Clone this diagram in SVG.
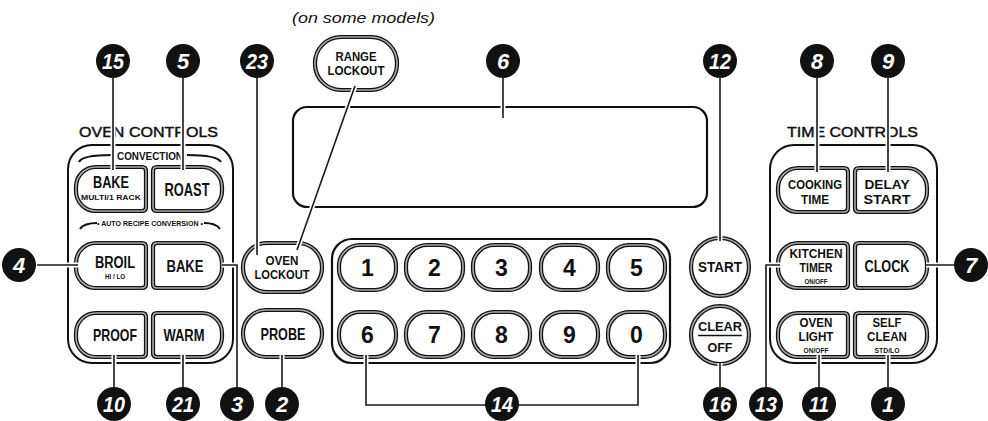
<svg xmlns="http://www.w3.org/2000/svg" xmlns:xlink="http://www.w3.org/1999/xlink" width="988" height="421" viewBox="0 0 988 421">
<style>
text{font-family:"Liberation Sans",Arial,sans-serif;fill:#111}
.lb{font-weight:bold;text-anchor:middle}
.hd{font-size:14.5px;stroke:#111;stroke-width:0.45}
.bo{fill:#fff;stroke:#111;stroke-width:4.2}
.bi{fill:none;stroke:#aaa;stroke-width:1.6}
.pnl{fill:none;stroke:#111;stroke-width:2}
.fr{fill:none;stroke:#111;stroke-width:2.2}
.hl{fill:none;stroke:#fff;stroke-width:5}
.ld{fill:none;stroke:#1a1a1a;stroke-width:1.6}
.co circle{fill:#111}
.co text{fill:#fff;font-weight:bold;font-style:italic;font-size:22px;text-anchor:middle}
.dg{font-size:23px}
</style>
<defs>
<path id="s-l1" d="M96,167 H142 Q146,167 146,171 V207 Q146,211 142,211 H96 A20,20 0 0 1 76,191 V187 A20,20 0 0 1 96,167 Z"/>
<path id="s-r1" d="M157,167 H202 A20,20 0 0 1 222,187 V191 A20,20 0 0 1 202,211 H157 Q153,211 153,207 V171 Q153,167 157,167 Z"/>
<path id="s-l2" d="M96,243 H142 Q146,243 146,247 V284 Q146,288 142,288 H96 A20,20 0 0 1 76,268 V263 A20,20 0 0 1 96,243 Z"/>
<path id="s-r2" d="M157,243 H202 A20,20 0 0 1 222,263 V268 A20,20 0 0 1 202,288 H157 Q153,288 153,284 V247 Q153,243 157,243 Z"/>
<path id="s-l3" d="M96,313 H142 Q146,313 146,317 V353 Q146,357 142,357 H96 A20,20 0 0 1 76,337 V333 A20,20 0 0 1 96,313 Z"/>
<path id="s-r3" d="M157,313 H202 A20,20 0 0 1 222,333 V337 A20,20 0 0 1 202,357 H157 Q153,357 153,353 V317 Q153,313 157,313 Z"/>
<path id="t-l1" d="M798,168 H844 Q848,168 848,172 V208 Q848,212 844,212 H798 A20,20 0 0 1 778,192 V188 A20,20 0 0 1 798,168 Z"/>
<path id="t-r1" d="M859,168 H907 A20,20 0 0 1 927,188 V192 A20,20 0 0 1 907,212 H859 Q855,212 855,208 V172 Q855,168 859,168 Z"/>
<path id="t-l2" d="M798,243 H844 Q848,243 848,247 V284 Q848,288 844,288 H798 A20,20 0 0 1 778,268 V263 A20,20 0 0 1 798,243 Z"/>
<path id="t-r2" d="M859,243 H907 A20,20 0 0 1 927,263 V268 A20,20 0 0 1 907,288 H859 Q855,288 855,284 V247 Q855,243 859,243 Z"/>
<path id="t-l3" d="M798,313 H844 Q848,313 848,317 V353 Q848,357 844,357 H798 A20,20 0 0 1 778,337 V333 A20,20 0 0 1 798,313 Z"/>
<path id="t-r3" d="M859,313 H907 A20,20 0 0 1 927,333 V337 A20,20 0 0 1 907,357 H859 Q855,357 855,353 V317 Q855,313 859,313 Z"/>
<rect id="s-range" x="315" y="37" width="82" height="53" rx="26"/>
<rect id="s-olock" x="243" y="243" width="79" height="49" rx="24"/>
<rect id="s-probe" x="243" y="310" width="79" height="47" rx="23"/>
<rect id="k" x="0" y="0" width="57" height="45" rx="21"/>
<circle id="s-start" cx="720" cy="267" r="29"/>
<circle id="s-clear" cx="720" cy="335" r="29"/>
</defs>

<text x="292" y="23" font-size="15" font-style="italic" fill="#333" textLength="143" lengthAdjust="spacingAndGlyphs">(on some models)</text>

<g id="oven-controls">
<text class="hd" x="79" y="137" textLength="139" lengthAdjust="spacingAndGlyphs">OVEN CONTROLS</text>
<rect class="pnl" x="68" y="145" width="165" height="218" rx="24"/>
<path class="pnl" d="M79,162 Q82,155 112,155 M187,155 Q217,155 221,162" stroke-width="1.8"/>
<text class="lb" x="150" y="160" font-size="11" textLength="66" lengthAdjust="spacingAndGlyphs">CONVECTION</text>
<path class="pnl" d="M80,229 Q84,223 97,223 M204,223 Q216,223 220,229" stroke-width="1.8"/>
<text class="lb" x="150" y="226" font-size="7.5" textLength="106" lengthAdjust="spacingAndGlyphs">• AUTO RECIPE CONVERSION •</text>
</g>

<g id="btn-conv-bake"><use href="#s-l1" class="bo"/><use href="#s-l1" class="bi"/>
<text class="lb" x="111" y="188" font-size="16" textLength="36" lengthAdjust="spacingAndGlyphs">BAKE</text>
<text class="lb" x="111" y="200" font-size="8" textLength="60" lengthAdjust="spacingAndGlyphs">MULTI/1 RACK</text></g>
<g id="btn-roast"><use href="#s-r1" class="bo"/><use href="#s-r1" class="bi"/>
<text class="lb" x="187" y="196" font-size="17.5" textLength="45" lengthAdjust="spacingAndGlyphs">ROAST</text></g>
<g id="btn-broil"><use href="#s-l2" class="bo"/><use href="#s-l2" class="bi"/>
<text class="lb" x="115" y="268" font-size="16" textLength="40" lengthAdjust="spacingAndGlyphs">BROIL</text>
<text class="lb" x="115" y="279" font-size="7.5" textLength="20" lengthAdjust="spacingAndGlyphs">HI / LO</text></g>
<g id="btn-bake"><use href="#s-r2" class="bo"/><use href="#s-r2" class="bi"/>
<text class="lb" x="185" y="272" font-size="16.5" textLength="37" lengthAdjust="spacingAndGlyphs">BAKE</text></g>
<g id="btn-proof"><use href="#s-l3" class="bo"/><use href="#s-l3" class="bi"/>
<text class="lb" x="115" y="341" font-size="16.5" textLength="44" lengthAdjust="spacingAndGlyphs">PROOF</text></g>
<g id="btn-warm"><use href="#s-r3" class="bo"/><use href="#s-r3" class="bi"/>
<text class="lb" x="184" y="341" font-size="16.5" textLength="41" lengthAdjust="spacingAndGlyphs">WARM</text></g>

<g id="btn-range-lockout"><use href="#s-range" class="bo"/><use href="#s-range" class="bi"/>
<text class="lb" x="356" y="61" font-size="13" textLength="41" lengthAdjust="spacingAndGlyphs">RANGE</text>
<text class="lb" x="356" y="75" font-size="13" textLength="57" lengthAdjust="spacingAndGlyphs">LOCKOUT</text></g>
<g id="btn-oven-lockout"><use href="#s-olock" class="bo"/><use href="#s-olock" class="bi"/>
<text class="lb" x="282" y="265" font-size="13" textLength="33" lengthAdjust="spacingAndGlyphs">OVEN</text>
<text class="lb" x="282" y="279" font-size="13" textLength="55" lengthAdjust="spacingAndGlyphs">LOCKOUT</text></g>
<g id="btn-probe"><use href="#s-probe" class="bo"/><use href="#s-probe" class="bi"/>
<text class="lb" x="283" y="340" font-size="16.5" textLength="45" lengthAdjust="spacingAndGlyphs">PROBE</text></g>

<g id="display"><rect class="fr" x="293" y="107" width="414" height="100" rx="14"/></g>

<g id="keypad">
<rect class="fr" x="332" y="239" width="338" height="124" rx="20"/>
<g transform="translate(339,245)"><use href="#k" class="bo"/><use href="#k" class="bi"/></g>
<g transform="translate(406,245)"><use href="#k" class="bo"/><use href="#k" class="bi"/></g>
<g transform="translate(473,245)"><use href="#k" class="bo"/><use href="#k" class="bi"/></g>
<g transform="translate(541,245)"><use href="#k" class="bo"/><use href="#k" class="bi"/></g>
<g transform="translate(608,245)"><use href="#k" class="bo"/><use href="#k" class="bi"/></g>
<g transform="translate(339,312)"><use href="#k" class="bo"/><use href="#k" class="bi"/></g>
<g transform="translate(406,312)"><use href="#k" class="bo"/><use href="#k" class="bi"/></g>
<g transform="translate(473,312)"><use href="#k" class="bo"/><use href="#k" class="bi"/></g>
<g transform="translate(541,312)"><use href="#k" class="bo"/><use href="#k" class="bi"/></g>
<g transform="translate(608,312)"><use href="#k" class="bo"/><use href="#k" class="bi"/></g>
<text class="lb dg" x="367.5" y="276">1</text>
<text class="lb dg" x="434.5" y="276">2</text>
<text class="lb dg" x="501.5" y="276">3</text>
<text class="lb dg" x="569.5" y="276">4</text>
<text class="lb dg" x="636.5" y="276">5</text>
<text class="lb dg" x="367.5" y="343">6</text>
<text class="lb dg" x="434.5" y="343">7</text>
<text class="lb dg" x="501.5" y="343">8</text>
<text class="lb dg" x="569.5" y="343">9</text>
<text class="lb dg" x="636.5" y="343">0</text>
</g>

<g id="btn-start"><use href="#s-start" class="bo"/><use href="#s-start" class="bi"/>
<text class="lb" x="720" y="272" font-size="15" textLength="44" lengthAdjust="spacingAndGlyphs">START</text></g>
<g id="btn-clear-off"><use href="#s-clear" class="bo"/><use href="#s-clear" class="bi"/>
<text class="lb" x="720" y="331" font-size="13.5" textLength="44" lengthAdjust="spacingAndGlyphs">CLEAR</text>
<line x1="698" y1="335.5" x2="742" y2="335.5" stroke="#111" stroke-width="1.6"/>
<text class="lb" x="720" y="352" font-size="13.5" textLength="25" lengthAdjust="spacingAndGlyphs">OFF</text></g>

<g id="time-controls">
<text class="hd" x="787" y="137" textLength="131" lengthAdjust="spacingAndGlyphs">TIME CONTROLS</text>
<rect class="pnl" x="770" y="145" width="167" height="218" rx="24"/>
</g>
<g id="btn-cooking-time"><use href="#t-l1" class="bo"/><use href="#t-l1" class="bi"/>
<text class="lb" x="815" y="189" font-size="13.5" textLength="54" lengthAdjust="spacingAndGlyphs">COOKING</text>
<text class="lb" x="815" y="204" font-size="13.5" textLength="28" lengthAdjust="spacingAndGlyphs">TIME</text></g>
<g id="btn-delay-start"><use href="#t-r1" class="bo"/><use href="#t-r1" class="bi"/>
<text class="lb" x="887" y="189" font-size="13.5" textLength="45" lengthAdjust="spacingAndGlyphs">DELAY</text>
<text class="lb" x="887" y="204" font-size="13.5" textLength="47" lengthAdjust="spacingAndGlyphs">START</text></g>
<g id="btn-kitchen-timer"><use href="#t-l2" class="bo"/><use href="#t-l2" class="bi"/>
<text class="lb" x="816" y="258" font-size="13.5" textLength="53" lengthAdjust="spacingAndGlyphs">KITCHEN</text>
<text class="lb" x="816" y="272" font-size="13.5" textLength="33" lengthAdjust="spacingAndGlyphs">TIMER</text>
<text class="lb" x="816" y="284" font-size="7" textLength="23" lengthAdjust="spacingAndGlyphs">ON/OFF</text></g>
<g id="btn-clock"><use href="#t-r2" class="bo"/><use href="#t-r2" class="bi"/>
<text class="lb" x="887" y="272" font-size="16" textLength="45" lengthAdjust="spacingAndGlyphs">CLOCK</text></g>
<g id="btn-oven-light"><use href="#t-l3" class="bo"/><use href="#t-l3" class="bi"/>
<text class="lb" x="816" y="327" font-size="13.5" textLength="33" lengthAdjust="spacingAndGlyphs">OVEN</text>
<text class="lb" x="816" y="341" font-size="13.5" textLength="35" lengthAdjust="spacingAndGlyphs">LIGHT</text>
<text class="lb" x="816" y="353" font-size="7" textLength="25" lengthAdjust="spacingAndGlyphs">ON/OFF</text></g>
<g id="btn-self-clean"><use href="#t-r3" class="bo"/><use href="#t-r3" class="bi"/>
<text class="lb" x="887" y="327" font-size="13.5" textLength="29" lengthAdjust="spacingAndGlyphs">SELF</text>
<text class="lb" x="887" y="341" font-size="13.5" textLength="40" lengthAdjust="spacingAndGlyphs">CLEAN</text>
<text class="lb" x="887" y="353" font-size="7" textLength="25" lengthAdjust="spacingAndGlyphs">STD/LO</text></g>

<g id="connectors">
<g class="hl">
<path d="M113,78 V170 M183,78 V170 M257,78 V255 M503,78 V118 M720,78 V241 M817,78 V172 M888,78 V172"/>
<path d="M355,86 L297,250"/>
<path d="M37,265 H78 M222,265 H237 V387 M114,355 V387 M183,355 V387 M282,355 V387 M366,355 V405 H638 V355 M720,363 V387 M926,265 H954 M780,265 H766 V387 M819,355 V387 M888,355 V387"/>
</g>
<g class="ld">
<path d="M113,78 V170 M183,78 V170 M257,78 V255 M503,78 V118 M720,78 V241 M817,78 V172 M888,78 V172"/>
<path d="M355,86 L297,250"/>
<path d="M37,265 H78 M222,265 H237 V387 M114,355 V387 M183,355 V387 M282,355 V387 M366,355 V405 H638 V355 M720,363 V387 M926,265 H954 M780,265 H766 V387 M819,355 V387 M888,355 V387"/>
</g>
</g>

<g id="callout-15" class="co"><circle cx="113" cy="61" r="17"/><text x="113" y="69" textLength="22" lengthAdjust="spacingAndGlyphs">15</text></g>
<g id="callout-5" class="co"><circle cx="183" cy="61" r="17"/><text x="183" y="69">5</text></g>
<g id="callout-23" class="co"><circle cx="257" cy="61" r="17"/><text x="257" y="69" textLength="22" lengthAdjust="spacingAndGlyphs">23</text></g>
<g id="callout-6" class="co"><circle cx="503" cy="61" r="17"/><text x="503" y="69">6</text></g>
<g id="callout-12" class="co"><circle cx="720" cy="61" r="17"/><text x="720" y="69" textLength="22" lengthAdjust="spacingAndGlyphs">12</text></g>
<g id="callout-8" class="co"><circle cx="817" cy="61" r="17"/><text x="817" y="69">8</text></g>
<g id="callout-9" class="co"><circle cx="888" cy="61" r="17"/><text x="888" y="69">9</text></g>
<g id="callout-4" class="co"><circle cx="19" cy="265" r="17"/><text x="19" y="273">4</text></g>
<g id="callout-7" class="co"><circle cx="971" cy="265" r="17"/><text x="971" y="273">7</text></g>
<g id="callout-10" class="co"><circle cx="114" cy="404" r="17"/><text x="114" y="412" textLength="22" lengthAdjust="spacingAndGlyphs">10</text></g>
<g id="callout-21" class="co"><circle cx="183" cy="404" r="17"/><text x="183" y="412" textLength="22" lengthAdjust="spacingAndGlyphs">21</text></g>
<g id="callout-3" class="co"><circle cx="237" cy="404" r="17"/><text x="237" y="412">3</text></g>
<g id="callout-2" class="co"><circle cx="282" cy="404" r="17"/><text x="282" y="412">2</text></g>
<g id="callout-14" class="co"><circle cx="502" cy="404" r="17"/><text x="502" y="412" textLength="22" lengthAdjust="spacingAndGlyphs">14</text></g>
<g id="callout-16" class="co"><circle cx="720" cy="404" r="17"/><text x="720" y="412" textLength="22" lengthAdjust="spacingAndGlyphs">16</text></g>
<g id="callout-13" class="co"><circle cx="766" cy="404" r="17"/><text x="766" y="412" textLength="22" lengthAdjust="spacingAndGlyphs">13</text></g>
<g id="callout-11" class="co"><circle cx="819" cy="404" r="17"/><text x="819" y="412" textLength="20" lengthAdjust="spacingAndGlyphs">11</text></g>
<g id="callout-1" class="co"><circle cx="888" cy="404" r="17"/><text x="888" y="412">1</text></g>
</svg>
